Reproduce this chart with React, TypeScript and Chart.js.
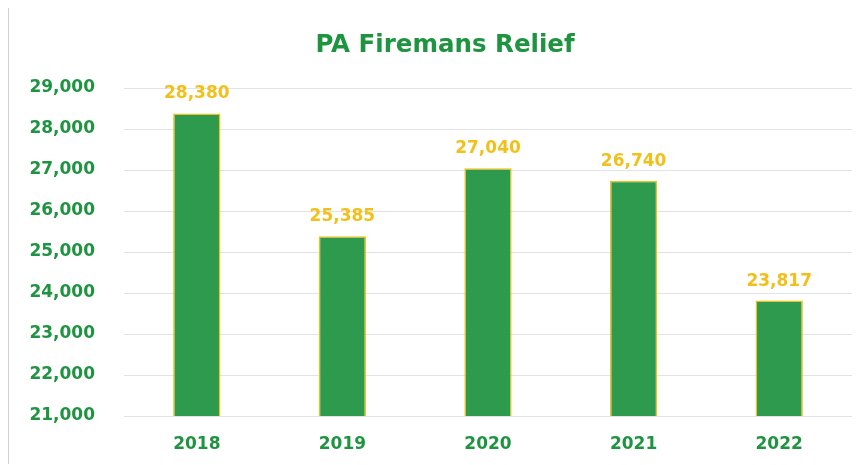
import React, { useEffect, useRef } from "react";
import { Chart, registerables } from "chart.js";

Chart.register(...registerables);

const categories = ["2018", "2019", "2020", "2021", "2022"];
const values = [28380, 25385, 27040, 26740, 23817];
const yMin = 21000;
const yMax = 29000;
const yStep = 1000;
const titleText = "PA Firemans Relief";

const GREEN = "#1f9440";
const GOLD = "#f2c01a";
const FONT = "'DejaVu Sans', sans-serif";

const dataLabels = {
  id: "dataLabels",
  afterDatasetsDraw(chart: any) {
    const ctx = chart.ctx;
    const meta = chart.getDatasetMeta(0);
    ctx.save();
    ctx.font = `bold 17px ${FONT}`;
    ctx.fillStyle = GOLD;
    ctx.textAlign = "center";
    ctx.textBaseline = "alphabetic";
    meta.data.forEach((bar: any, i: number) => {
      const v = chart.data.datasets[0].data[i] as number;
      ctx.fillText(v.toLocaleString("en-US"), bar.x, bar.y - 15);
    });
    ctx.restore();
  },
};

const customTitle = {
  id: "customTitle",
  afterDraw(chart: any) {
    const ctx = chart.ctx;
    ctx.save();
    ctx.font = `bold 24.5px ${FONT}`;
    ctx.fillStyle = GREEN;
    ctx.textAlign = "center";
    ctx.textBaseline = "alphabetic";
    ctx.fillText(titleText, 436, 44);
    ctx.restore();
  },
};

export default function App() {
  const ref = useRef<HTMLCanvasElement>(null);
  useEffect(() => {
    if (!ref.current) return;
    const chart = new Chart(ref.current, {
      type: "bar",
      data: {
        labels: categories,
        datasets: [
          {
            data: values,
            backgroundColor: "#2d9a4e",
            borderColor: GOLD,
            borderWidth: 1.5,
            barPercentage: 0.65,
            categoryPercentage: 0.5,
          },
        ],
      },
      options: {
        animation: false,
        responsive: false,
        layout: { padding: { left: 0, right: 13, top: 80, bottom: 0 } },
        plugins: {
          legend: { display: false },
          tooltip: { enabled: false },
          title: { display: false },
        },
        scales: {
          x: {
            grid: { display: false, drawTicks: false },
            border: { display: false },
            ticks: {
              color: GREEN,
              font: { family: FONT, size: 17, weight: "bold" },
              padding: 18,
            },
            afterFit(scale: any) {
              scale.height = 48;
            },
          },
          y: {
            min: yMin,
            max: yMax,
            grid: { color: "#e2e3e8", drawTicks: false, lineWidth: 1 },
            border: { display: false },
            ticks: {
              stepSize: yStep,
              color: GREEN,
              font: { family: FONT, size: 17, weight: "bold" },
              padding: 29,
              callback: (v: any) => Number(v).toLocaleString("en-US"),
            },
            afterFit(scale: any) {
              scale.width = 115;
            },
          },
        },
      },
      plugins: [dataLabels, customTitle],
    });
    return () => chart.destroy();
  }, []);
  return (
    <div
      style={{
        width: 857,
        height: 457,
        borderLeft: "1px solid #cfcfcf",
        borderTop: "1px solid #cfcfcf",
        boxSizing: "border-box",
        background: "#fff",
        marginTop: -1,
      }}
    >
      <canvas ref={ref} width={856} height={456} style={{ display: "block" }} />
    </div>
  );
}
